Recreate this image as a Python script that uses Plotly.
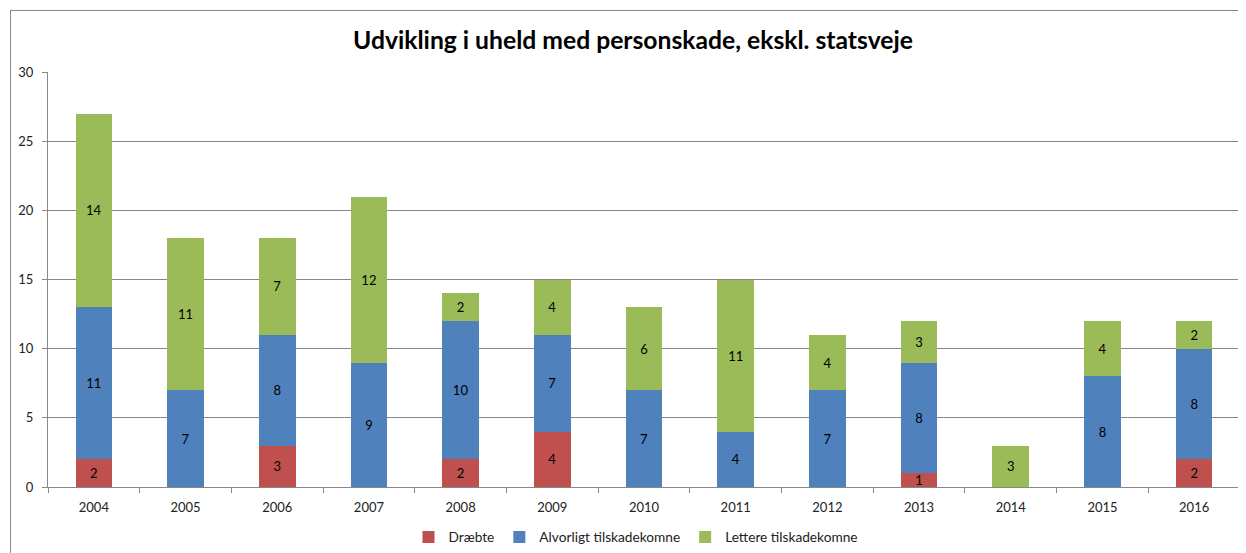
import plotly.graph_objects as go

years = ["2004", "2005", "2006", "2007", "2008", "2009", "2010", "2011", "2012", "2013", "2014", "2015", "2016"]
draebte = [2, 0, 3, 0, 2, 4, 0, 0, 0, 1, 0, 0, 2]
alvorligt = [11, 7, 8, 9, 10, 7, 7, 4, 7, 8, 0, 8, 8]
lettere = [14, 11, 7, 12, 2, 4, 6, 11, 4, 3, 3, 4, 2]

series = [
    ("Dræbte", draebte, "#C0504D"),
    ("Alvorligt tilskadekomne", alvorligt, "#4F81BD"),
    ("Lettere tilskadekomne", lettere, "#9BBB59"),
]

FONT = "Lato, 'Open Sans', sans-serif"

fig = go.Figure()
for name, vals, color in series:
    fig.add_trace(go.Bar(
        x=years,
        y=[v if v else None for v in vals],
        name=name,
        marker=dict(color=color, line=dict(width=0)),
        text=[str(v) if v else "" for v in vals],
        textposition="inside",
        insidetextanchor="middle",
        constraintext="none",
        textangle=0,
        textfont=dict(color="#000000", size=13, family=FONT),
        hoverinfo="x+y+name",
    ))

# page body has an 8px default margin; compensate so the picture lines up
OFF = 8
W, H = 1246, 553
PL, PT, PR, PB = 48, 72, 1240, 487  # target plot-area edges on screen
L, T = PL - OFF, PT - OFF
pw, ph = PR - PL, PB - PT
R = W - L - pw
B = H - T - ph

def px_x(p):
    return (p - PL) / pw

def px_y(p):
    return 1 - (p - PT) / ph

fig.update_layout(
    width=W, height=H,
    barmode="stack",
    bargap=0.6,
    margin=dict(l=L, r=R, t=T, b=B, autoexpand=False),
    paper_bgcolor="white",
    plot_bgcolor="white",
    font=dict(family=FONT, size=13, color="#222"),
    title=dict(
        text="<b>Udvikling i uheld med personskade, ekskl. statsveje</b>",
        x=(633 - OFF) / W, xanchor="center", xref="container",
        y=1 - (40 - OFF) / H, yanchor="middle",
        font=dict(size=24.7, color="#000", family=FONT),
    ),
    legend=dict(
        orientation="h", x=px_x(636), xanchor="center", y=px_y(537), yanchor="middle",
        font=dict(size=13.7, color="#222"), traceorder="normal",
    ),
    xaxis=dict(
        showline=True, linecolor="#878787", linewidth=1,
        ticks="outside", ticklen=5, tickcolor="#878787",
        tickson="boundaries", ticklabelstandoff=8,
        tickfont=dict(size=13, color="#222"),
        showgrid=False, automargin=False,
    ),
    yaxis=dict(
        range=[0, 30], dtick=5,
        showline=True, linecolor="#878787", linewidth=1,
        ticks="outside", ticklen=5, tickcolor="#878787",
        ticklabelstandoff=6,
        showgrid=True, gridcolor="#878787", gridwidth=1,
        tickfont=dict(size=13, color="#222"),
        zeroline=False, automargin=False,
    ),
    shapes=[
        dict(type="line", xref="paper", yref="paper",
             x0=px_x(10), x1=px_x(1260), y0=px_y(10.5), y1=px_y(10.5),
             line=dict(color="#888", width=1)),
        dict(type="line", xref="paper", yref="paper",
             x0=px_x(10.5), x1=px_x(10.5), y0=px_y(10.5), y1=px_y(560),
             line=dict(color="#888", width=1)),
    ],
)

fig.write_html("out.html")
